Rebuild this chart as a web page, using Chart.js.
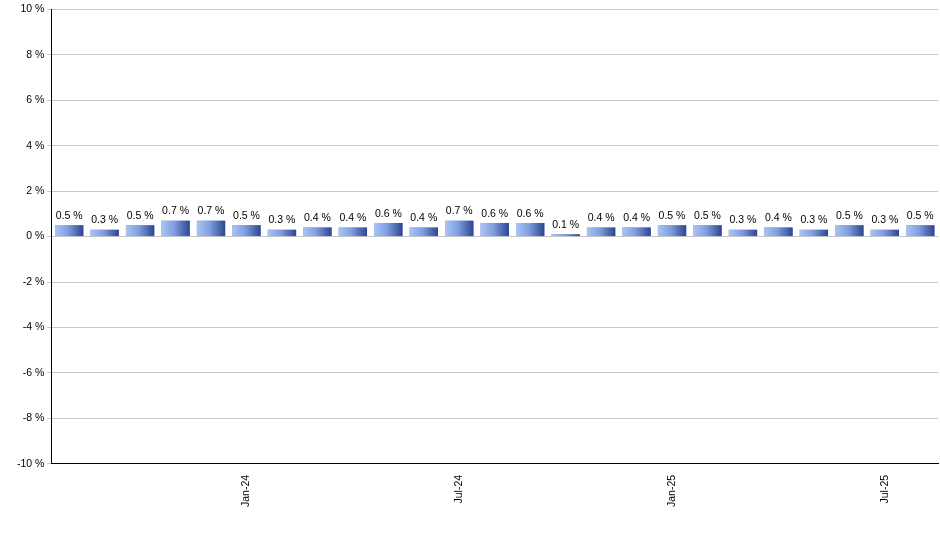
<!DOCTYPE html>
<html>
<head>
<meta charset="utf-8">
<script src="https://cdn.jsdelivr.net/npm/chart.js@4"></script>
<style>
  body { margin: 0; background: #fff; }
  #wrap { width: 940px; height: 550px; }
</style>
</head>
<body>
<div id="wrap"><canvas id="chart"></canvas></div>
<script>
const months = ['Aug-23', 'Sep-23', 'Oct-23', 'Nov-23', 'Dec-23', 'Jan-24', 'Feb-24', 'Mar-24', 'Apr-24',
    'May-24', 'Jun-24', 'Jul-24', 'Aug-24', 'Sep-24', 'Oct-24', 'Nov-24', 'Dec-24', 'Jan-25', 'Feb-25',
    'Mar-25', 'Apr-25', 'May-25', 'Jun-25', 'Jul-25', 'Aug-25'];
const values = [0.5, 0.3, 0.5, 0.7, 0.7, 0.5, 0.3, 0.4, 0.4, 0.6, 0.4, 0.7, 0.6, 0.6, 0.1, 0.4, 0.4, 0.5, 0.5,
    0.3, 0.4, 0.3, 0.5, 0.3, 0.5];
const shownTicks = ['Jan-24', 'Jul-24', 'Jan-25', 'Jul-25'];

// gradient bars + value labels on top
const barDecor = {
    id: 'barDecor',
    afterDatasetsDraw(chart) {
        const ctx = chart.ctx;
        const meta = chart.getDatasetMeta(0);
        meta.data.forEach((bar, i) => {
            const left = bar.x - bar.width / 2;
            const g = ctx.createLinearGradient(left, 0, left + bar.width, 0);
            g.addColorStop(0, '#aac4f4');
            g.addColorStop(0.45, '#7f9fe0');
            g.addColorStop(1, '#2f4590');
            ctx.save();
            ctx.fillStyle = g;
            ctx.fillRect(left, bar.y, bar.width, bar.base - bar.y);
            ctx.fillStyle = '#000';
            ctx.font = '10.5px "Liberation Sans", Arial, sans-serif';
            ctx.textAlign = 'center';
            ctx.textBaseline = 'bottom';
            ctx.fillText(values[i].toFixed(1) + ' %', bar.x, bar.y - 4);
            ctx.restore();
        });
    }
};

new Chart(document.getElementById('chart'), {
    type: 'bar',
    data: {
        labels: months,
        datasets: [{
            data: values,
            backgroundColor: '#6f8fd8',
            categoryPercentage: 0.8,
            barPercentage: 1.0
        }]
    },
    options: {
        responsive: true,
        maintainAspectRatio: false,
        animation: false,
        layout: { padding: { top: 4, right: 2, left: 14, bottom: 40 } },
        plugins: { legend: { display: false }, tooltip: { enabled: false } },
        scales: {
            x: {
                grid: { display: false, drawTicks: true },
                border: { color: '#000' },
                ticks: {
                    autoSkip: false,
                    maxRotation: 90,
                    minRotation: 90,
                    color: '#000',
                    font: { family: '"Liberation Sans", Arial, sans-serif', size: 10.5 },
                    callback: function (v) {
                        const l = this.getLabelForValue(v);
                        return shownTicks.includes(l) ? l : '';
                    }
                }
            },
            y: {
                min: -10,
                max: 10,
                grid: { color: '#c8c8c8', tickLength: 4 },
                border: { color: '#000' },
                ticks: {
                    stepSize: 2,
                    color: '#000',
                    font: { family: '"Liberation Sans", Arial, sans-serif', size: 10.5 },
                    callback: v => v + ' %'
                }
            }
        }
    },
    plugins: [barDecor]
});
</script>
</body>
</html>
